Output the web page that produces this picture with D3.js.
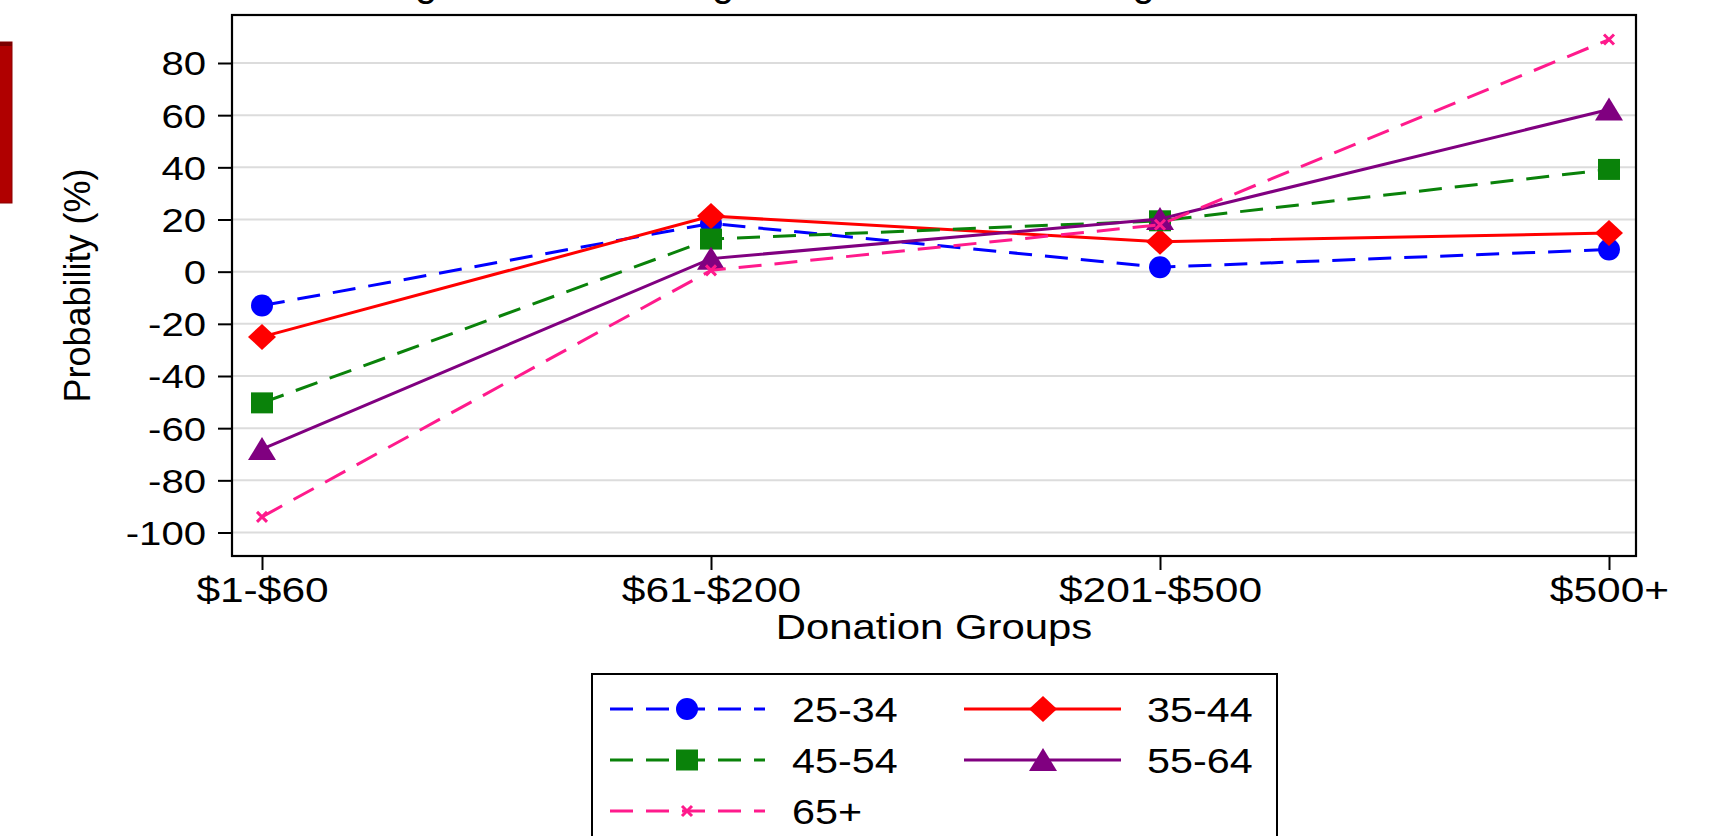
<!DOCTYPE html>
<html><head><meta charset="utf-8">
<script src="https://cdn.jsdelivr.net/npm/d3@7"></script>
<style>html,body{margin:0;padding:0;background:#fff;overflow:hidden}text{font-family:"Liberation Sans",Arial,Helvetica,sans-serif;fill:#000}</style>
</head><body><svg id="c" width="1709" height="836"></svg>
<script>
const categories = ["$1-$60", "$61-$200", "$201-$500", "$500+"];
const seriesNames = ["25-34", "35-44", "45-54", "55-64", "65+"];
const v25_34 = [-13, 18.5, 1.7, 8.5];
const v35_44 = [-25, 21.3, 11.5, 14.8];
const v45_54 = [-50.3, 12.5, 19.5, 39.2];
const v55_64 = [-68, 5, 20.2, 62.2];
const v65plus = [-94, 0.5, 18, 89];
const yTicks = [80, 60, 40, 20, 0, -20, -40, -60, -80, -100];
const seriesColors = ["#0000ff", "#ff0000", "#0a820a", "#800080", "#ff1a8c"];
const seriesDash = ["23,13", null, "23,13", null, "23,13"];
const seriesSymbol = ["circle", "diamond", "square", "triangle", "x"];
const titleText = "Marginal Effects of Age in the Donation Categories";
const xTitle = "Donation Groups";
const yTitle = "Probability (%)";

const seriesValues = [v25_34, v35_44, v45_54, v55_64, v65plus];
const series = seriesNames.map((n, i) => ({name: n, values: seriesValues[i], color: seriesColors[i], dash: seriesDash[i], sym: seriesSymbol[i]}));

const svg = d3.select("#c");
const F = 34, SX = 1.18;
const frame = {l: 232, r: 1636, t: 15, b: 556};

const x = d3.scalePoint().domain(categories).range([262, 1609]);
const y = d3.scaleLinear().domain([-100, 80]).range([532.5, 63]);

// red side box
svg.append("rect").attr("x", -2).attr("y", 42).attr("width", 14).attr("height", 161).attr("fill", "#b00000").attr("stroke", "#8a0000").attr("stroke-width", 1);
svg.append("rect").attr("x", 0).attr("y", 42).attr("width", 12).attr("height", 4).attr("fill", "#7a0000");

// title (clipped at the top edge, as in the reference)
svg.append("text").attr("x", 346).attr("y", -4).attr("font-size", 40).text(titleText);

// gridlines
svg.append("g").selectAll("line").data(yTicks).join("line")
  .attr("x1", frame.l).attr("x2", frame.r).attr("y1", d => y(d)).attr("y2", d => y(d))
  .attr("stroke", "#dcdcdc").attr("stroke-width", 2);

// axes
const yAxis = d3.axisLeft(y).tickValues(yTicks).tickSize(14).tickPadding(12).tickFormat(d => String(d));
const gy = svg.append("g").attr("transform", `translate(${frame.l},0)`).call(yAxis);
gy.select(".domain").remove();
gy.selectAll(".tick line").attr("stroke", "#000").attr("stroke-width", 2);
gy.selectAll(".tick text").attr("font-size", F).attr("font-family", "Liberation Sans, Arial, sans-serif").attr("fill", "#000")
  .attr("dy", null).attr("dominant-baseline", "central")
  .each(function() { const t = d3.select(this); const xx = +t.attr("x"); t.attr("transform", `translate(${xx},0) scale(${SX},1)`).attr("x", 0); });

const xAxis = d3.axisBottom(x).tickSize(14).tickPadding(10);
const gx = svg.append("g").attr("transform", `translate(0,${frame.b})`).call(xAxis);
gx.select(".domain").remove();
gx.selectAll(".tick line").attr("stroke", "#000").attr("stroke-width", 2);
gx.selectAll(".tick text").attr("font-size", 36).attr("font-family", "Liberation Sans, Arial, sans-serif").attr("fill", "#000")
  .attr("y", 0).attr("dy", null).attr("transform", `translate(0,46) scale(${SX},1)`);

// frame
svg.append("rect").attr("x", frame.l).attr("y", frame.t).attr("width", frame.r - frame.l).attr("height", frame.b - frame.t)
  .attr("fill", "none").attr("stroke", "#000").attr("stroke-width", 2.2);

// axis titles
svg.append("text").attr("transform", `translate(${(frame.l + frame.r) / 2},639) scale(${SX},1)`).attr("text-anchor", "middle").attr("font-size", 35.5).text(xTitle);
svg.append("text").attr("transform", `translate(90,${(frame.t + frame.b) / 2}) rotate(-90)`).attr("text-anchor", "middle").attr("font-size", 36).text(yTitle);

function markerPath(sym) {
  switch (sym) {
    case "circle": return d3.symbol(d3.symbolCircle, Math.PI * 11 * 11)();
    case "diamond": return "M0,-13L14,0L0,13L-14,0Z";
    case "square": return "M-11,-10.5H11V10.5H-11Z";
    case "triangle": return "M0,-12L14,11L-14,11Z";
    case "x": return "M-5,-5L5,5M-5,5L5,-5";
  }
}
function drawMarker(g, sym, color, cx, cy) {
  const p = g.append("path").attr("d", markerPath(sym)).attr("transform", `translate(${cx},${cy})`);
  if (sym === "x") p.attr("fill", "none").attr("stroke", color).attr("stroke-width", 3);
  else p.attr("fill", color).attr("stroke", "none");
}

const line = d3.line().x((d, i) => x(categories[i])).y(d => y(d));
const plot = svg.append("g");
series.forEach(s => {
  const g = plot.append("g");
  g.append("path").attr("d", line(s.values)).attr("fill", "none").attr("stroke", s.color).attr("stroke-width", 3)
    .attr("stroke-dasharray", s.dash);
  s.values.forEach((v, i) => drawMarker(g, s.sym, s.color, x(categories[i]), y(v)));
});

// legend
const leg = svg.append("g");
leg.append("rect").attr("x", 592).attr("y", 674).attr("width", 685).attr("height", 220).attr("fill", "#fff").attr("stroke", "#000").attr("stroke-width", 2);
const cols = [{x1: 610, x2: 765, m: 687, t: 792}, {x1: 964, x2: 1121, m: 1043, t: 1147}];
const rows = [709, 760, 811];
series.forEach((s, i) => {
  const c = cols[i % 2], ry = rows[Math.floor(i / 2)];
  const g = leg.append("g");
  g.append("line").attr("x1", c.x1).attr("x2", c.x2).attr("y1", ry).attr("y2", ry).attr("stroke", s.color).attr("stroke-width", 3).attr("stroke-dasharray", s.dash);
  drawMarker(g, s.sym, s.color, c.m, ry);
  g.append("text").attr("transform", `translate(${c.t},${ry + 12.5}) scale(${SX},1)`).attr("font-size", 35).text(s.name);
});
</script></body></html>
